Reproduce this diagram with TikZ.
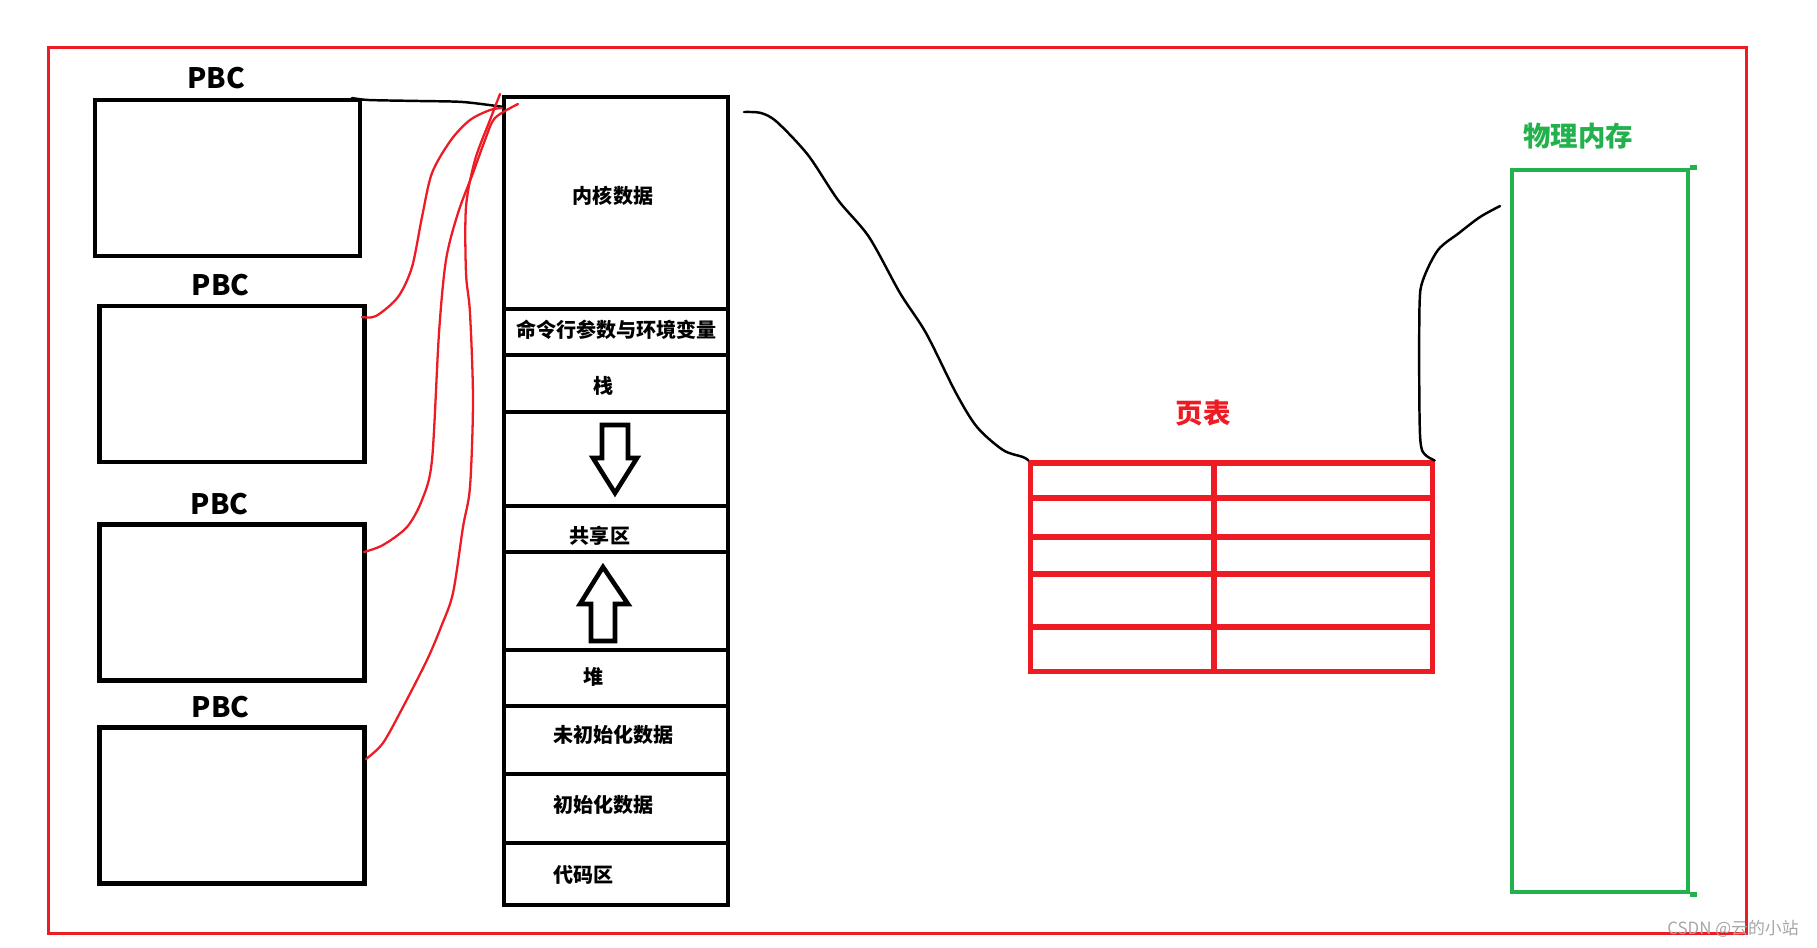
\documentclass[tikz,border=0pt]{standalone}
\usepackage{fontspec}
\setmainfont{Noto Sans CJK SC}
\definecolor{pred}{HTML}{ED1C24}
\definecolor{pgreen}{HTML}{22B14C}
\begin{document}
\begin{tikzpicture}[x=0.01cm,y=-0.01cm,
  pbcbox/.style={draw=black,line width=1.3pt,minimum width=2.65cm,minimum height=1.56cm,inner sep=0pt},
  seg/.style={draw=black,line width=1.3pt,minimum width=2.24cm,inner sep=0pt},
  pbclbl/.style={anchor=base,inner sep=0pt,font=\bfseries\fontsize{8pt}{9pt}\selectfont},
  txt/.style={anchor=base,inner sep=0pt,font=\bfseries\fontsize{5.7pt}{6pt}\selectfont},
  bigtxt/.style={anchor=base,inner sep=0pt,font=\bfseries\fontsize{7.8pt}{8pt}\selectfont},
  blockarrow/.style={draw=black,line width=1.3pt,line join=miter},
  bconn/.style={draw=black,line width=0.7pt,line cap=round},
  rconn/.style={draw=pred,line width=0.65pt,line cap=round},
  ptline/.style={draw=pred,line width=1.45pt}]
\useasboundingbox (0,0) rectangle (1817,947);

% outer red frame
\draw[pred,line width=0.85pt] (48.5,47.5) rectangle (1746,933);

% PBC boxes
\node[pbcbox] (pbc1) at (227.5,178) {};
\node[pbcbox] (pbc2) at (232,384) {};
\node[pbcbox] (pbc3) at (232,602.5) {};
\node[pbcbox] (pbc4) at (232,805.5) {};
\node[pbclbl] (lbl1) at (216,88) {PBC};
\node[pbclbl] (lbl2) at (220.5,295) {PBC};
\node[pbclbl] (lbl3) at (219.5,514) {PBC};
\node[pbclbl] (lbl4) at (220.5,717) {PBC};

% address space column
\node[seg,minimum height=2.12cm] (kern) at (616,203) {};
\node[seg,minimum height=0.46cm] (args) at (616,332) {};
\node[seg,minimum height=0.57cm] (stack) at (616,383.5) {};
\node[seg,minimum height=0.94cm] (gapa) at (616,459) {};
\node[seg,minimum height=0.46cm] (shared) at (616,529) {};
\node[seg,minimum height=0.98cm] (gapb) at (616,601) {};
\node[seg,minimum height=0.56cm] (heap) at (616,678) {};
\node[seg,minimum height=0.68cm] (bss) at (616,740) {};
\node[seg,minimum height=0.69cm] (data) at (616,808.5) {};
\node[seg,minimum height=0.62cm] (code) at (616,874) {};

\node[txt] (tkern) at (613,203.6) {内核数据};
\node[txt] (targs) at (616.5,337.6) {命令行参数与环境变量};
\node[txt] (tstack) at (603.5,393.6) {栈};
\node[txt] (tshared) at (600,543.6) {共享区};
\node[txt] (theap) at (594,684.6) {堆};
\node[txt] (tbss) at (613.5,742.6) {未初始化数据};
\node[txt] (tdata) at (603.5,812.6) {初始化数据};
\node[txt] (tcode) at (583.5,882.6) {代码区};

% block arrows
\draw[blockarrow] (602,425) -- (628,425) -- (628,458) -- (637,458) -- (615,493) -- (593,458) -- (602,458) -- cycle;
\draw[blockarrow] (591,641) -- (615,641) -- (615,604) -- (628,604) -- (603,567) -- (580,604) -- (591,604) -- cycle;

% page table
\node[draw=pred,line width=1.45pt,minimum width=4.01cm,minimum height=2.08cm,inner sep=0pt] (pt) at (1231.5,567) {};
\foreach \yy in {498,537,574,627} \draw[ptline] (pt.west |- 0,\yy) -- (pt.east |- 0,\yy);
\draw[ptline] (pt.north -| 1214,0) -- (pt.south -| 1214,0);
\node[bigtxt,text=pred] (ptlbl) at (1203,423) {页表};

% physical memory
\node[draw=pgreen,line width=1.25pt,minimum width=1.76cm,minimum height=7.22cm,inner sep=0pt] (mem) at (1600,531) {};
\draw[pgreen,line width=1.25pt] (mem.north east) -- ++(7,0);
\draw[pgreen,line width=1.25pt] (mem.south east) -- ++(7,0);
\node[bigtxt,text=pgreen] (memlbl) at (1578,146) {物理内存};

% connector end points
\coordinate (c1s) at (352,98);
\coordinate (c1e) at (504,107);
\coordinate (c2s) at (744,112);
\coordinate (c3e) at (1500,206);
\coordinate (r2s) at (362,317);
\coordinate (r2e) at (502,108);
\coordinate (r3s) at (364,552);
\coordinate (r3e) at (518,104);
\coordinate (r4s) at (366,759);
\coordinate (r4e) at (500,94);

% black connectors
\draw[bconn] plot[smooth,tension=0.5] coordinates {(c1s) (369,100) (420,101) (463,102) (c1e)};
\draw[bconn] plot[smooth,tension=0.5] coordinates {(c2s) (761,113) (777,122) (808,155) (838,200) (869,237) (900,293) (926,333) (956,393) (977,427) (1003,450) (1023,457) (pt.north west)};
\draw[bconn] plot[smooth,tension=0.5] coordinates {(pt.north east) (1422,450) (1419.5,413) (1419.5,307) (1423,280) (1438,250) (1459,233) (1480,217) (c3e)};

% red connectors
\draw[rconn] plot[smooth,tension=0.5] coordinates {(r2s) (376,316) (398,297) (412,267) (422,217) (432,173) (451,140) (470,120) (490,110) (r2e)};
\draw[rconn] plot[smooth,tension=0.5] coordinates {(r3s) (383,545) (407,527) (422,500) (432,460) (439,333) (446,260) (458,213) (473,173) (485,140) (495,118) (r3e)};
\draw[rconn] plot[smooth,tension=0.5] coordinates {(r4s) (383,743) (403,707) (427,660) (441,627) (453,593) (463,527) (470,487) (473,400) (470,313) (466,273) (466,207) (475,160) (490,120) (r4e)};

% watermark
\node[anchor=base,inner sep=0pt,text=black!35,font=\fontsize{4.8pt}{5pt}\selectfont] (wm) at (1733,934) {CSDN @云的小站};
\end{tikzpicture}
\end{document}
